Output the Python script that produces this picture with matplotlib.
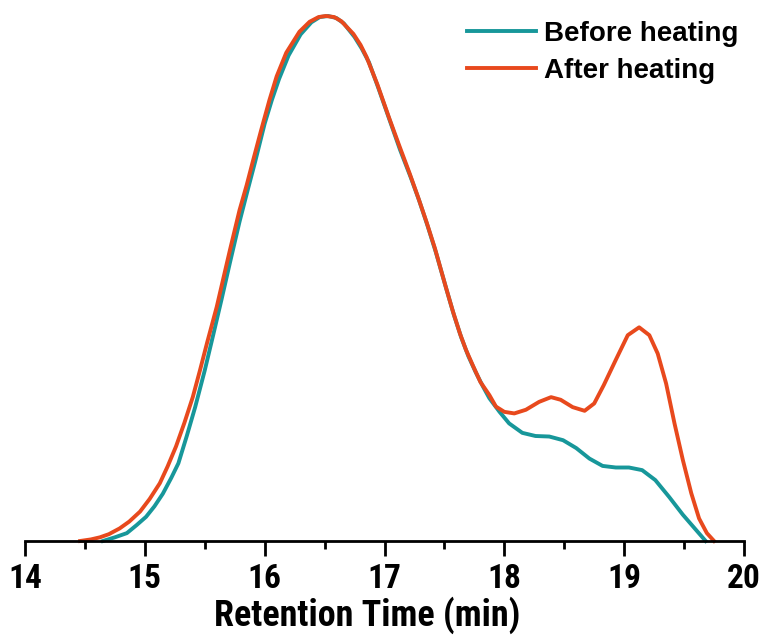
import matplotlib
matplotlib.use("Agg")
import matplotlib.pyplot as plt
from matplotlib.ticker import MultipleLocator

# values (retention time in min, normalised signal)
t_before = [14.65, 14.75, 14.85, 14.93, 15.01, 15.08, 15.15, 15.22, 15.28, 15.35,
            15.42, 15.50, 15.57, 15.64, 15.71, 15.79, 15.86, 15.92, 16.00, 16.06,
            16.12, 16.20, 16.30, 16.39, 16.46, 16.53, 16.60, 16.66, 16.75, 16.81,
            16.87, 16.95, 17.05, 17.13, 17.22, 17.29, 17.36, 17.43, 17.52, 17.58,
            17.64, 17.70, 17.76, 17.82, 17.875, 17.96, 18.04, 18.15, 18.26, 18.375,
            18.49, 18.60, 18.71, 18.82, 18.93, 19.04, 19.15, 19.26, 19.375, 19.49,
            19.60, 19.68]
y_before = [0.0, 0.007, 0.015, 0.030, 0.046, 0.066, 0.090, 0.120, 0.148, 0.200,
            0.255, 0.325, 0.392, 0.460, 0.530, 0.608, 0.670, 0.722, 0.795, 0.840,
            0.880, 0.925, 0.965, 0.988, 0.998, 1.0, 0.996, 0.986, 0.960, 0.938,
            0.912, 0.862, 0.797, 0.745, 0.692, 0.648, 0.600, 0.549, 0.477, 0.430,
            0.388, 0.352, 0.322, 0.295, 0.272, 0.246, 0.224, 0.206, 0.200, 0.199,
            0.192, 0.177, 0.157, 0.143, 0.140, 0.140, 0.135, 0.116, 0.084, 0.050,
            0.021, 0.0]

t_after = [14.46, 14.55, 14.625, 14.70, 14.79, 14.87, 14.96, 15.04, 15.125, 15.19,
           15.26, 15.33, 15.40, 15.46, 15.52, 15.60, 15.66, 15.71, 15.79, 15.85,
           15.90, 15.97, 16.04, 16.10, 16.18, 16.29, 16.375, 16.45, 16.51, 16.58,
           16.64, 16.74, 16.80, 16.85, 16.94, 17.04, 17.12, 17.21, 17.28, 17.35,
           17.42, 17.51, 17.57, 17.63, 17.68, 17.74, 17.80, 17.875, 17.93, 18.00,
           18.083, 18.18, 18.29, 18.39, 18.47, 18.57, 18.67, 18.75, 18.83, 18.93,
           19.03, 19.125, 19.21, 19.28, 19.35, 19.42, 19.49, 19.56, 19.625, 19.69,
           19.75]
y_after = [0.0, 0.003, 0.007, 0.013, 0.024, 0.037, 0.056, 0.080, 0.110, 0.142,
           0.180, 0.225, 0.274, 0.325, 0.378, 0.446, 0.505, 0.554, 0.630, 0.678,
           0.722, 0.782, 0.840, 0.885, 0.930, 0.970, 0.989, 0.998, 1.0, 0.998,
           0.990, 0.966, 0.945, 0.922, 0.870, 0.805, 0.755, 0.700, 0.655, 0.608,
           0.558, 0.485, 0.438, 0.395, 0.364, 0.333, 0.303, 0.278, 0.256, 0.246,
           0.243, 0.250, 0.265, 0.274, 0.269, 0.255, 0.248, 0.262, 0.297, 0.345,
           0.392, 0.407, 0.392, 0.357, 0.300, 0.224, 0.154, 0.091, 0.043, 0.015,
           0.0]

axis_font = ['Roboto Condensed', 'Liberation Sans', 'DejaVu Sans']

fig = plt.figure(figsize=(7.61, 6.35), dpi=100)
ax = fig.add_axes([25/761, 94/635, 719/761, 525/635])

ax.plot(t_before, y_before, color='#17979a', lw=2.8, label='Before heating',
        clip_on=False, solid_joinstyle='round')
ax.plot(t_after, y_after, color='#e8491d', lw=2.8, label='After heating',
        clip_on=False, solid_joinstyle='round')

ax.set_xlim(14, 20)
ax.set_ylim(0, 1.0)
ax.xaxis.set_major_locator(MultipleLocator(1))
ax.xaxis.set_minor_locator(MultipleLocator(0.5))
for s in ['left', 'right', 'top']:
    ax.spines[s].set_visible(False)
ax.spines['bottom'].set_linewidth(2)
ax.set_yticks([])
ax.tick_params(axis='x', which='major', direction='out', length=11, width=2, pad=5)
ax.tick_params(axis='x', which='minor', direction='out', length=6, width=2)
for lab in ax.get_xticklabels():
    lab.set_fontfamily(axis_font)
    lab.set_fontweight('bold')
    lab.set_fontsize(24)
ax.set_xlabel('Retention Time (min)', fontsize=26, fontweight='bold', family=axis_font)
ax.xaxis.set_label_coords(0.476, -0.105)

fig.legend(loc='upper right', bbox_to_anchor=(738/761, 1 - 21/635),
           bbox_transform=fig.transFigure, frameon=False,
           handlelength=2.5, handletextpad=0.27, labelspacing=0.38,
           borderaxespad=0, borderpad=0,
           prop={'family': 'Liberation Sans', 'weight': 'bold', 'size': 20})

fig.savefig('out.png', dpi=100)
